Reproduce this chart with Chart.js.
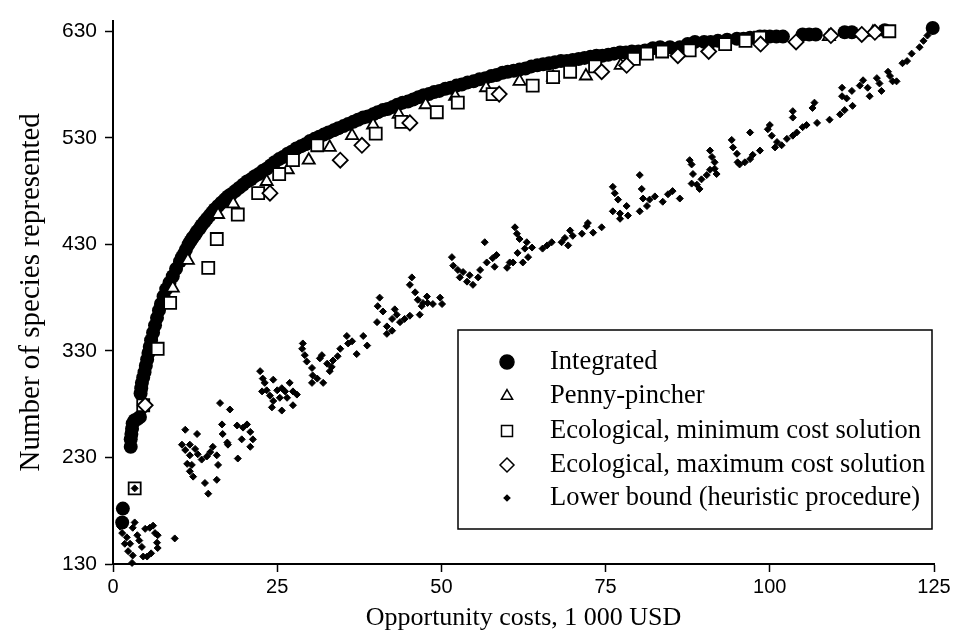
<!DOCTYPE html>
<html>
<head>
<meta charset="utf-8">
<script src="https://cdn.jsdelivr.net/npm/chart.js@4"></script>
<style>
  html, body { margin: 0; padding: 0; background: #fff; }
  #wrap { width: 960px; height: 635px; position: relative; }
</style>
</head>
<body>
<div id="wrap"><canvas id="speciesChart"></canvas></div>
<script>
(function () {
  "use strict";

  // axis ticks
  const xTicks = [0, 25, 50, 75, 100, 125];
  const yTicks = [130, 230, 330, 430, 530, 630];

  const seriesNames = [
    "Integrated",
    "Penny-pincher",
    "Ecological, minimum cost solution",
    "Ecological, maximum cost solution",
    "Lower bound (heuristic procedure)",
  ];

  // [cost, species]
  const integrated = [
    [1.4,169],[1.5,182],[2.7,240],[2.7,247],[2.8,252],[2.9,257],[3.0,262],[3.3,265],[3.7,266],[4.1,268],
    [4.2,290],[4.3,295],[4.4,300],[4.6,305],[4.8,310],[5.0,316],[5.2,322],[5.4,328],[5.6,334],[5.8,340],
    [6.1,347],[6.4,354],[6.7,361],[7.0,368],[7.3,374],[7.7,381],[8.1,388],[8.6,394],[9.1,400],[9.6,407],
    [10.2,414],[10.5,418],[10.8,421],[11.1,425],[11.5,430],[11.8,433],[12.1,436],[12.5,439],[12.8,442],
    [13.2,445],[13.5,448],[13.9,451],[14.3,454],[14.7,457],[15.1,460],[15.5,463],[16.0,466],[16.5,469],
    [17.0,472],[17.5,475],[18.0,477],[18.6,480],[19.2,483],[19.8,486],[20.4,489],[21.0,491],[21.6,494],
    [22.2,496],[22.8,499],[23.4,501],[24.0,504],[24.6,507],[25.3,510],[25.9,512],[26.6,515],[27.2,517],
    [27.9,520],[28.6,522],[29.3,524],[30.0,527],[30.7,529],[31.4,531],[32.1,533],[32.8,535],[33.6,537],
    [34.3,539],[35.1,541],[35.8,543],[36.6,545],[37.3,547],[38.1,549],[38.8,550],[39.6,552],[40.3,554],
    [41.1,556],[41.8,557],[42.6,559],[43.3,561],[44.1,563],[44.9,564],[45.7,566],[46.5,568],[47.3,570],
    [48.1,571],[48.9,573],[49.7,574],[50.6,576],[51.4,577],[52.3,579],[53.1,580],[54.0,582],[54.9,583],
    [55.8,585],[56.7,586],[57.6,588],[58.4,589],[59.3,591],[60.1,592],[61.0,593],[61.9,594],[62.8,595],
    [63.7,597],[64.6,598],[65.5,599],[66.4,600],[67.3,601],[68.2,602],[69.1,602],[70.0,603],[70.9,604],
    [71.8,605],[72.7,606],[73.6,607],[74.5,607],[75.4,608],[76.3,609],[77.2,610],[78.1,610],[79.0,611],
    [80.0,611],[81.0,612],[82.2,614],[83.3,615],[84.8,615],[86.3,615],[87.5,618],[88.6,620],[90.0,620],
    [91.0,620],[92.1,621],[93.5,622],[95.0,623],[96.0,623],[97.0,624],[98.5,625],[99.2,625],[100.0,625],
    [101.0,625],[102.0,625],[105.0,627],[106.0,627],[107.0,627],[111.4,629],[112.5,629],[117.5,631],
    [124.8,633],
  ];

  const pennyPincher = [
    [9.1,389],[11.4,415],[16.0,458],[18.3,468],[23.4,489],[26.6,500],[29.8,509],[33.0,521],[36.4,532],
    [39.6,542],[43.5,552],[47.6,561],[52.1,569],[56.8,577],[61.9,583],[67.0,587],[72.0,588],[77.3,598],
    [109.0,625],[115.7,629],
  ];

  const ecoMin = [
    [3.3,201],[4.6,279],[6.8,332],[8.7,375],[14.5,408],[15.8,435],[19.0,458],[22.1,478],[25.3,496],
    [27.4,509],[31.1,523],[40.0,534],[43.9,545],[49.3,554],[52.5,563],[57.8,571],[63.9,579],[67.0,587],
    [69.6,592],[73.4,597],[79.3,604],[81.3,609],[83.6,611],[87.8,612],[93.2,618],[96.3,621],[98.5,624],
    [118.2,630],
  ];

  const ecoMax = [
    [4.9,279],[23.9,478],[34.6,509],[37.9,523],[45.2,544],[58.8,571],[74.4,592],[78.2,598],[86.0,607],
    [90.7,611],[98.6,618],[104.0,620],[109.3,626],[114.0,627],[116.0,629],
  ];

  const lowerBound = [
    [1.4,159],[1.8,149],[2.6,149],[2.1,155],[3.0,164],[3.3,169],[3.7,157],[4.4,146],[3.0,138],[2.9,131],
    [4.6,137],[5.2,137],[4.9,163],[5.6,164],[6.1,166],[6.4,159],[6.8,157],[6.7,150],[6.8,145],[9.4,154],
    [1.1,165],[2.3,142],[4.0,152],[5.8,140],[3.3,201],
    [11.0,256],[12.8,252],[10.5,242],[11.0,237],[11.7,242],[12.5,238],[12.9,233],[11.7,232],[11.3,224],
    [12.0,223],[11.7,217],[12.2,212],[14.0,206],[14.5,196],[15.8,209],[14.3,231],[14.8,235],[15.2,240],
    [15.8,232],[16.0,223],[13.5,228],[16.6,261],[16.7,252],[16.3,281],[17.8,275],[17.4,244],[17.5,242],
    [18.9,260],[19.8,258],[20.4,261],[20.9,254],[19.6,247],[21.3,247],[20.9,240],[19.0,229],
    [22.4,311],[22.8,304],[23.1,300],[24.4,303],[22.7,292],[23.4,293],[23.9,288],[24.4,283],[24.2,277],
    [25.7,274],[25.0,293],[25.7,295],[26.2,292],[26.9,300],[27.4,292],[28.0,289],[27.4,279],[26.5,286],
    [25.4,286],
    [28.9,337],[28.8,332],[29.2,326],[29.5,320],[30.3,314],[30.4,307],[30.3,300],[31.1,304],[32.0,300],
    [31.5,323],[31.8,326],[32.6,318],[33.3,315],[33.5,321],[34.2,325],[34.6,332],[35.6,344],[35.8,337],
    [36.4,339],[37.1,327],[38.1,344],[38.7,335],[33.0,311],
    [40.6,380],[40.3,372],[41.1,367],[40.2,357],[41.7,353],[41.7,346],[42.5,360],[43.2,364],[43.7,357],
    [44.4,360],[45.2,363],[42.9,369],[42.5,349],
    [45.5,399],[45.2,392],[46.0,385],[46.4,378],[47.0,372],[46.7,364],[47.8,381],[47.9,375],[48.7,374],
    [49.8,380],[50.1,374],[47.2,375],
    [51.6,418],[51.8,410],[52.5,406],[53.3,404],[52.8,399],[53.9,395],[54.8,392],[54.3,401],[55.6,399],
    [55.9,406],[56.6,432],[56.9,413],[57.8,417],[58.1,409],[58.4,420],[60.0,408],[60.4,413],[60.9,413],
    [61.2,446],[61.5,440],[61.9,435],[63.0,432],[61.6,422],[62.7,426],[63.8,427],[63.2,418],[62.4,413],
    [65.4,426],[66.1,429],[66.8,432],[68.3,432],[68.8,436],[69.6,443],[70.0,438],[69.3,429],[71.4,440],
    [72.1,447],[72.3,450],[73.1,441],[74.4,446],
    [76.1,484],[76.4,478],[76.9,472],[76.1,461],[77.2,459],[78.2,466],[78.4,457],[77.2,454],[80.2,495],
    [80.5,482],[80.7,473],[81.3,466],[80.2,461],[81.7,472],[82.5,475],[83.7,470],[84.5,477],[85.2,480],
    [86.3,473],
    [87.8,509],[88.1,505],[88.3,496],[88.1,487],[88.9,486],[89.6,491],[89.3,482],[90.4,495],[90.9,500],
    [91.6,501],[91.9,496],[90.9,518],[91.2,512],[91.6,507],[94.2,528],[94.4,521],[95.0,515],[95.1,507],
    [95.4,505],[96.2,507],[97.0,510],[97.4,514],[98.5,518],[97.0,535],[100.0,542],[99.7,538],[100.3,532],
    [101.1,526],[100.8,521],[101.8,523],[102.6,529],[103.5,532],[104.1,535],[105.0,540],[105.6,542],
    [107.2,544],[103.5,555],[103.5,549],[106.8,563],[106.5,558],[109.1,547],[110.7,552],[111.4,556],
    [112.6,560],[112.5,574],[111.0,577],[111.0,569],[111.7,567],[113.7,579],[114.2,584],[114.9,577],
    [115.2,569],[116.3,586],[116.7,581],[117.0,574],[118.0,592],[118.3,588],[118.7,583],[119.3,583],
    [120.2,600],[120.9,602],[121.6,609],[122.8,615],[123.4,621],[124.0,626],
  ];

  const toXY = (pts) => pts.map((p) => ({ x: p[0], y: p[1] }));

  const serif = "'Liberation Serif', 'Times New Roman', serif";
  const sans = "'Liberation Sans', Arial, sans-serif";

  /**
   * Boxed legend drawn inside the plot, like the printed figure
   */
  const boxLegend = {
    id: "boxLegend",
    afterDraw(chart) {
      const ctx = chart.ctx;
      const box = { left: 458, top: 330, right: 932, bottom: 529 };
      const rows = [362, 396, 431, 465, 498];
      const markX = 507;
      const textX = 550;

      ctx.save();
      ctx.fillStyle = "#fff";
      ctx.fillRect(box.left, box.top, box.right - box.left, box.bottom - box.top);
      ctx.strokeStyle = "#000";
      ctx.lineWidth = 1.5;
      ctx.strokeRect(box.left, box.top, box.right - box.left, box.bottom - box.top);

      chart.data.datasets.forEach((ds, i) => {
        const y = rows[i];
        ctx.beginPath();
        ctx.lineWidth = 1.5;
        ctx.strokeStyle = "#000";
        ctx.fillStyle = ds.legendFill;
        const r = ds.legendRadius;
        if (ds.pointStyle === "circle") {
          ctx.arc(markX, y, r, 0, Math.PI * 2);
        } else if (ds.pointStyle === "triangle") {
          ctx.moveTo(markX, y - r);
          ctx.lineTo(markX + r * 0.866, y + r * 0.5);
          ctx.lineTo(markX - r * 0.866, y + r * 0.5);
          ctx.closePath();
        } else if (ds.pointStyle === "rect") {
          ctx.rect(markX - r, y - r, 2 * r, 2 * r);
        } else {
          ctx.moveTo(markX, y - r);
          ctx.lineTo(markX + r, y);
          ctx.lineTo(markX, y + r);
          ctx.lineTo(markX - r, y);
          ctx.closePath();
        }
        ctx.fill();
        ctx.stroke();

        ctx.fillStyle = "#000";
        ctx.font = "26.5px " + serif;
        ctx.textBaseline = "middle";
        ctx.textAlign = "left";
        ctx.fillText(ds.label, textX, y);
      });
      ctx.restore();
    },
  };

  new Chart(document.getElementById("speciesChart"), {
    type: "scatter",
    data: {
      datasets: [
        {
          label: seriesNames[0],
          data: toXY(integrated),
          pointStyle: "circle",
          pointRadius: 7,
          backgroundColor: "#000",
          borderColor: "#000",
          borderWidth: 0,
          legendRadius: 7,
          legendFill: "#000",
          order: 5,
        },
        {
          label: seriesNames[1],
          data: toXY(pennyPincher),
          pointStyle: "triangle",
          pointRadius: 7,
          backgroundColor: "#fff",
          borderColor: "#000",
          borderWidth: 1.8,
          legendRadius: 6.5,
          legendFill: "#fff",
          order: 4,
        },
        {
          label: seriesNames[2],
          data: toXY(ecoMin),
          pointStyle: "rect",
          pointRadius: 8.5,
          backgroundColor: "#fff",
          borderColor: "#000",
          borderWidth: 1.8,
          legendRadius: 5.5,
          legendFill: "#fff",
          order: 3,
        },
        {
          label: seriesNames[3],
          data: toXY(ecoMax),
          pointStyle: "rectRot",
          pointRadius: 7.5,
          backgroundColor: "#fff",
          borderColor: "#000",
          borderWidth: 1.8,
          legendRadius: 7,
          legendFill: "#fff",
          order: 2,
        },
        {
          label: seriesNames[4],
          data: toXY(lowerBound),
          pointStyle: "rectRot",
          pointRadius: 3.5,
          backgroundColor: "#000",
          borderColor: "#000",
          borderWidth: 1,
          legendRadius: 2.8,
          legendFill: "#000",
          order: 1,
        },
      ],
    },
    options: {
      responsive: true,
      maintainAspectRatio: false,
      animation: false,
      layout: {
        padding: { top: 12, right: 26, left: 0, bottom: 0 },
      },
      datasets: {
        scatter: { clip: false },
      },
      plugins: {
        legend: { display: false },
        tooltip: { enabled: false },
      },
      scales: {
        x: {
          type: "linear",
          min: 0,
          max: 125,
          afterBuildTicks: (scale) => {
            scale.ticks = xTicks.map((v) => ({ value: v }));
          },
          afterFit: (scale) => {
            scale.height = 71;
          },
          border: { display: true, color: "#000", width: 2 },
          grid: {
            drawOnChartArea: false,
            drawTicks: true,
            tickLength: 8,
            tickColor: "#000",
            tickWidth: 1.5,
          },
          ticks: {
            color: "#000",
            padding: 3,
            maxRotation: 0,
            font: { family: sans, size: 20 },
          },
          title: {
            display: true,
            text: "Opportunity costs, 1 000 USD",
            color: "#000",
            padding: { top: 0, bottom: 1 },
            font: { family: serif, size: 26 },
          },
        },
        y: {
          type: "linear",
          min: 130,
          max: 640,
          afterBuildTicks: (scale) => {
            scale.ticks = yTicks.map((v) => ({ value: v }));
          },
          afterFit: (scale) => {
            scale.width = 113;
          },
          border: { display: true, color: "#000", width: 2 },
          grid: {
            drawOnChartArea: false,
            drawTicks: true,
            tickLength: 8,
            tickColor: "#000",
            tickWidth: 1.5,
          },
          ticks: {
            color: "#000",
            padding: 8,
            font: { family: sans, size: 21 },
          },
          title: {
            display: true,
            text: "Number of species represented",
            color: "#000",
            padding: { top: 14, bottom: 0 },
            font: { family: serif, size: 29 },
          },
        },
      },
    },
    plugins: [boxLegend],
  });
})();
</script>
</body>
</html>
